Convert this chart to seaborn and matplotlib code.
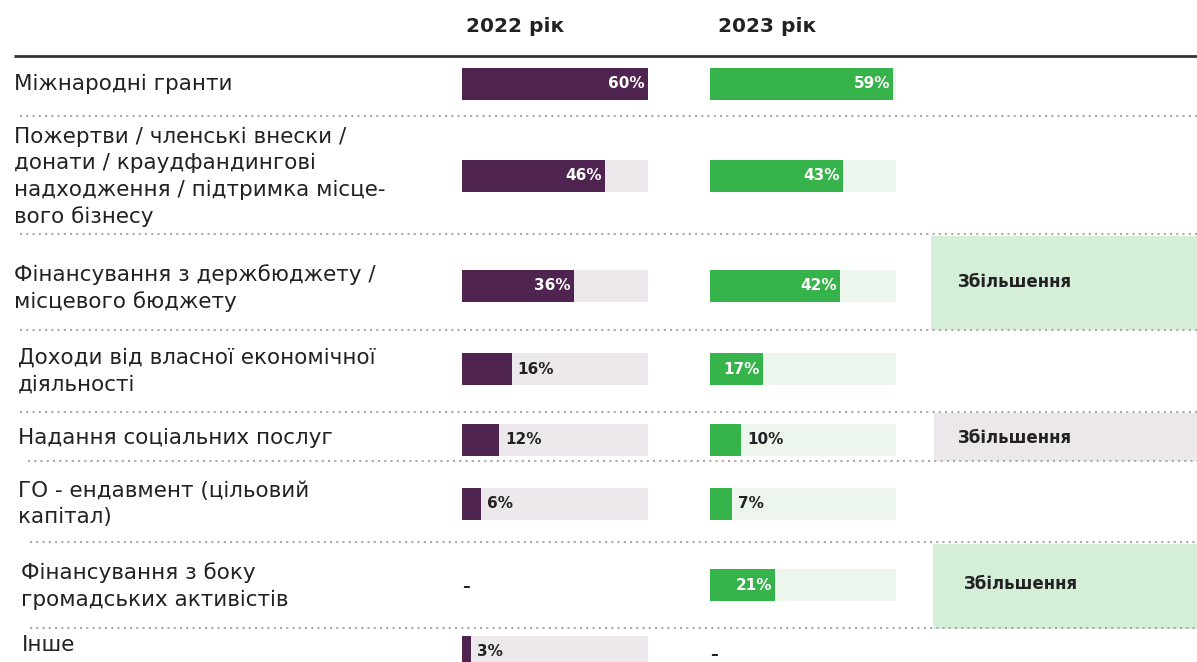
import numpy as np
import pandas as pd
import matplotlib
matplotlib.use("Agg")
import matplotlib.pyplot as plt
import seaborn as sns

# ---------------- data ----------------
categories = [
    "Міжнародні гранти",
    "Пожертви / членські внески /\nдонати / краудфандингові\nнадходження / підтримка місце-\nвого бізнесу",
    "Фінансування з держбюджету /\nмісцевого бюджету",
    "Доходи від власної економічної\nдіяльності",
    "Надання соціальних послуг",
    "ГО - ендавмент (цільовий\nкапітал)",
    "Фінансування з боку\nгромадських активістів",
    "Інше",
]
values_2022 = [60, 46, 36, 16, 12, 6, np.nan, 3]
values_2023 = [59, 43, 42, 17, 10, 7, 21, np.nan]
year_labels = ["2022 рік", "2023 рік"]
note_text = "Збільшення"
note_rows = [2, 4, 6]           # rows carrying the note
note_kind = ["green", "purple", "green"]
track_value = 60                 # full length of the light track (in %)

# ---------------- layout (pixels) ----------------
W, H = 1197, 662
ROW_Y = [84, 176, 286, 369, 440, 504, 585, 652]
LABEL_Y = [84, 177, 288, 371, 438, 504, 586, 645]
LABEL_X = [14, 14, 14, 18, 18, 18, 21, 22]
SEP_Y = [116, 234, 330, 412, 461, 542, 628]
SEP_X0 = [20, 20, 20, 20, 28, 30, 30]
NOTE_BOX = [(931, 236, 330), (934, 413, 461), (933, 544, 629)]
NOTE_TXT = [(958, 282), (958, 438), (964, 584)]
BAR_X0 = [462, 710]
PX_PER_100 = 310
BAR_H = 32

PURPLE = "#4f2450"
GREEN = "#36b34a"
TRACK_P = "#ede8ec"
TRACK_G = "#ecf6ed"
BOX_P = "#ece7eb"
BOX_G = "#d5eed8"
DARK = "#222222"

FONT = ["DejaVu Sans"]
sns.set_theme(style="white")
plt.rcParams["font.family"] = FONT

fig = plt.figure(figsize=(W / 100, H / 100), dpi=100)
bg = fig.add_axes([0, 0, 1, 1])
bg.set_xlim(0, W)
bg.set_ylim(H, 0)
bg.axis("off")

# header
bg.text(515, 26, year_labels[0], ha="center", va="center", fontsize=14.5, fontweight="bold", color=DARK)
bg.text(767, 26, year_labels[1], ha="center", va="center", fontsize=14.5, fontweight="bold", color=DARK)
bg.plot([14, W], [56, 56], color="#333333", lw=2, solid_capstyle="butt")

# separators
for y, x0 in zip(SEP_Y, SEP_X0):
    bg.plot([x0, W], [y, y], color="#aaaaaa", lw=1.5, linestyle=(0, (1, 2)))

# note boxes
for (x0, y0, y1), (tx, ty), kind in zip(NOTE_BOX, NOTE_TXT, note_kind):
    bg.add_patch(plt.Rectangle((x0, y0), W - x0, y1 - y0,
                               color=BOX_G if kind == "green" else BOX_P, lw=0, zorder=0))
    bg.text(tx, ty, note_text, ha="left", va="center", fontsize=12, fontweight="bold", color=DARK)

# category labels
for lab, x, y in zip(categories, LABEL_X, LABEL_Y):
    bg.text(x, y, lab, ha="left", va="center", fontsize=15.5, color=DARK, linespacing=1.4)

# bars
width_frac = BAR_H / np.min(np.diff(sorted(ROW_Y)))
for i, (vals, color, track_c) in enumerate([(values_2022, PURPLE, TRACK_P),
                                           (values_2023, GREEN, TRACK_G)]):
    ax = fig.add_axes([BAR_X0[i] / W, 0, PX_PER_100 / W, 1])
    df = pd.DataFrame({"row": ROW_Y, "value": vals}).dropna()
    df["track"] = track_value
    sns.barplot(data=df, x="track", y="row", orient="y", native_scale=True,
                width=width_frac, color=track_c, saturation=1, errorbar=None, ax=ax)
    sns.barplot(data=df, x="value", y="row", orient="y", native_scale=True,
                width=width_frac, color=color, saturation=1, errorbar=None, ax=ax)
    for p in ax.patches:
        p.set_linewidth(0)
    ax.set_xlim(0, 100)
    ax.set_ylim(H, 0)
    ax.axis("off")
    px = 100 / PX_PER_100
    for y, v in zip(ROW_Y, vals):
        if np.isnan(v):
            ax.text(4 * px, y + 2, "–", ha="center", va="center", fontsize=11, fontweight="bold", color=DARK)
        elif v > 16:
            ax.text(v - 3 * px, y, f"{int(v)}%", ha="right", va="center", fontsize=11,
                    fontweight="bold", color="white")
        else:
            ax.text(v + 6 * px, y, f"{int(v)}%", ha="left", va="center", fontsize=11,
                    fontweight="bold", color=DARK)

fig.savefig("out.png", dpi=100)
